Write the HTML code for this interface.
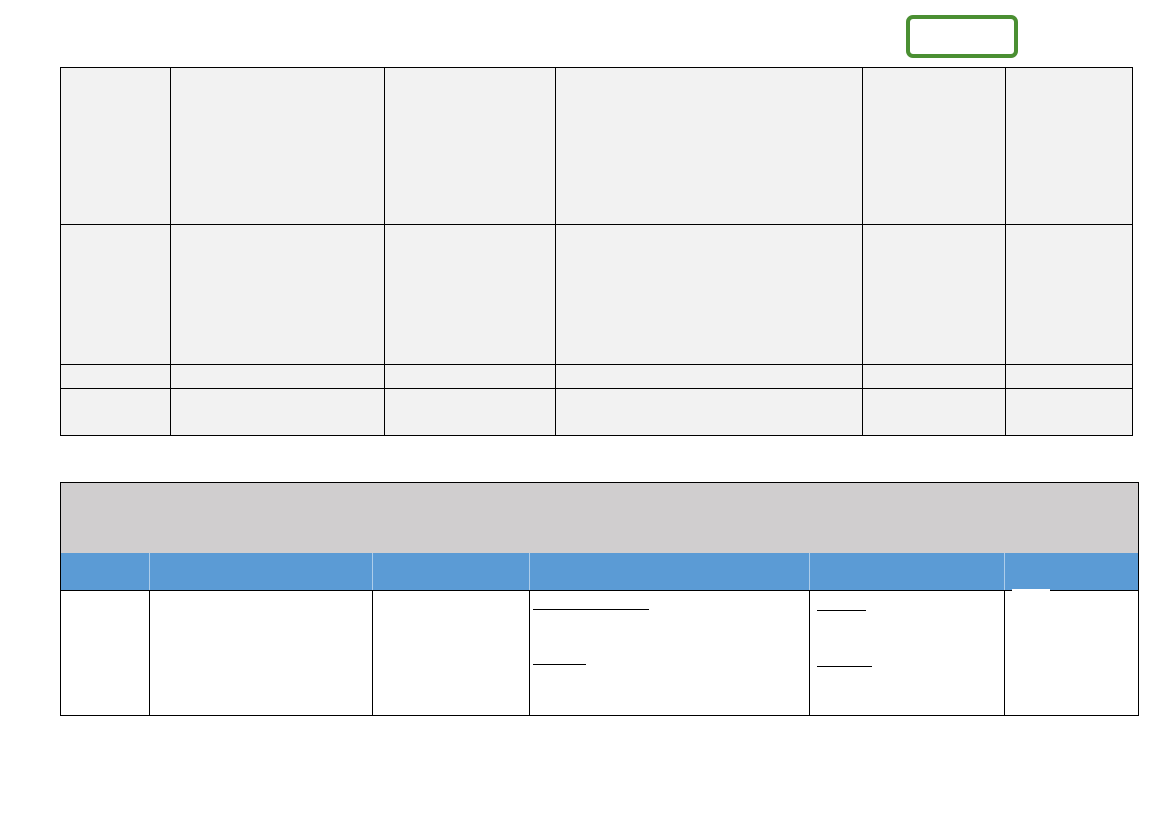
<!DOCTYPE html>
<html><head><meta charset="utf-8"><style>
body{margin:0;width:1169px;height:827px;background:#fff;position:relative;overflow:hidden;font-family:"Liberation Sans",sans-serif}
div{position:absolute;box-sizing:border-box}
.v{width:1px;background:#000}
.h{height:1px;background:#000}
</style></head><body>
<div style="left:906px;top:15px;width:112px;height:43px;border:4px solid #4a8f32;border-radius:7px"></div>

<div style="left:60px;top:67px;width:1073px;height:369px;background:#f2f2f2;border:1px solid #000"></div>
<div class="v" style="left:170px;top:67px;height:369px"></div>
<div class="v" style="left:384px;top:67px;height:369px"></div>
<div class="v" style="left:555px;top:67px;height:369px"></div>
<div class="v" style="left:862px;top:67px;height:369px"></div>
<div class="v" style="left:1005px;top:67px;height:369px"></div>
<div class="h" style="left:60px;top:224px;width:1073px"></div>
<div class="h" style="left:60px;top:364px;width:1073px"></div>
<div class="h" style="left:60px;top:388px;width:1073px"></div>

<div style="left:60px;top:482px;width:1079px;height:234px;border:1px solid #000"></div>
<div style="left:61px;top:483px;width:1077px;height:70px;background:#d0cecf"></div>
<div style="left:61px;top:553px;width:1077px;height:37px;background:#5b9bd5"></div>
<div class="h" style="left:60px;top:590px;width:1079px"></div>
<div style="left:1012px;top:589px;width:38px;height:2px;background:#fff"></div>
<div class="v" style="left:149px;top:553px;height:163px;background:#fff;opacity:.5"></div>
<div class="v" style="left:149px;top:590px;height:126px"></div>
<div class="v" style="left:372px;top:590px;height:126px"></div>
<div class="v" style="left:529px;top:590px;height:126px"></div>
<div class="v" style="left:809px;top:590px;height:126px"></div>
<div class="v" style="left:1004px;top:590px;height:126px"></div>
<div class="v" style="left:372px;top:553px;height:37px;background:#fff;opacity:.5"></div>
<div class="v" style="left:529px;top:553px;height:37px;background:#fff;opacity:.5"></div>
<div class="v" style="left:809px;top:553px;height:37px;background:#fff;opacity:.5"></div>
<div class="v" style="left:1004px;top:553px;height:37px;background:#fff;opacity:.5"></div>

<div class="h" style="left:533px;top:609px;width:116px"></div>
<div class="h" style="left:533px;top:664px;width:53px"></div>
<div class="h" style="left:817px;top:610px;width:49px"></div>
<div class="h" style="left:817px;top:666px;width:55px"></div>
</body></html>
